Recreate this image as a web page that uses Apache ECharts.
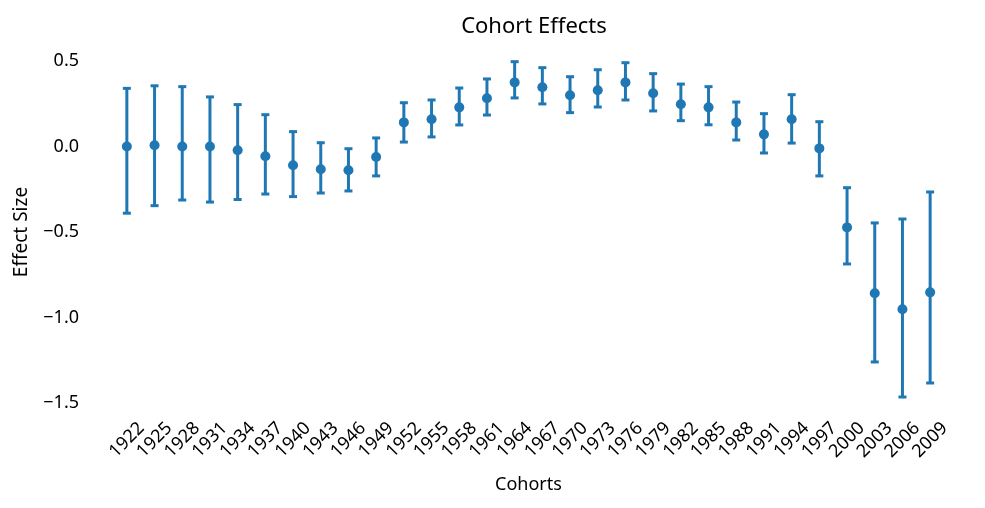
<!DOCTYPE html>
<html>
<head>
<meta charset="utf-8">
<script src="https://cdn.jsdelivr.net/npm/echarts@6/dist/echarts.min.js"></script>
<style>html,body{margin:0;padding:0;background:#fff;}#c{width:985px;height:508px;}</style>
</head>
<body>
<div id="c"></div>
<script>
const cohorts = ['1922','1925','1928','1931','1934','1937','1940','1943','1946','1949','1952','1955','1958','1961','1964','1967','1970','1973','1976','1979','1982','1985','1988','1991','1994','1997','2000','2003','2006','2009'];
const effects = [0.0, 0.007, 0.0, 0.0, -0.022, -0.057, -0.11, -0.133, -0.139, -0.061, 0.141, 0.159, 0.229, 0.282, 0.375, 0.346, 0.300, 0.329, 0.375, 0.311, 0.247, 0.229, 0.141, 0.071, 0.159, -0.011, -0.473, -0.858, -0.952, -0.853];
const upper = [0.34, 0.355, 0.35, 0.29, 0.245, 0.186, 0.087, 0.022, -0.013, 0.05, 0.256, 0.272, 0.342, 0.395, 0.496, 0.461, 0.408, 0.449, 0.490, 0.426, 0.365, 0.350, 0.260, 0.192, 0.303, 0.145, -0.241, -0.447, -0.424, -0.266];
const lower = [-0.39, -0.346, -0.313, -0.325, -0.31, -0.278, -0.293, -0.272, -0.26, -0.172, 0.026, 0.056, 0.126, 0.184, 0.284, 0.249, 0.198, 0.231, 0.272, 0.208, 0.151, 0.127, 0.038, -0.038, 0.020, -0.172, -0.687, -1.26, -1.465, -1.383];
const yTicks = [-1.5, -1.0, -0.5, 0.0, 0.5];

const color = '#1f77b4';
const font = 'Noto Sans';
const errData = cohorts.map((c, i) => [i, lower[i], upper[i]]);

const chart = echarts.init(document.getElementById('c'));
chart.setOption({
  animation: false,
  textStyle: { fontFamily: font },
  title: {
    text: 'Cohort Effects', left: 529, top: 11, textAlign: 'center',
    textStyle: { fontFamily: font, fontSize: 22, fontWeight: 'normal', color: '#000' }
  },
  grid: { left: 113, right: 41, top: 61, bottom: 105 },
  xAxis: {
    type: 'category', data: cohorts, boundaryGap: true,
    name: 'Cohorts', nameLocation: 'middle', nameGap: 73,
    nameTextStyle: { fontFamily: font, fontSize: 18, color: '#000' },
    axisLine: { show: false }, axisTick: { show: false }, splitLine: { show: false },
    axisLabel: {
      interval: 0, rotate: 45, margin: 37, align: 'center', verticalAlign: 'middle',
      fontFamily: font, fontSize: 18, color: '#000'
    }
  },
  yAxis: {
    type: 'value', min: yTicks[0], max: yTicks[yTicks.length - 1], interval: 0.5,
    name: 'Effect Size', nameLocation: 'middle', nameGap: 82, nameRotate: 90,
    nameTextStyle: { fontFamily: font, fontSize: 19, color: '#000' },
    axisLine: { show: false }, axisTick: { show: false }, splitLine: { show: false },
    axisLabel: {
      margin: 34, fontFamily: font, fontSize: 18, color: '#000',
      formatter: v => (v < 0 ? '\u2212' + Math.abs(v).toFixed(1) : v.toFixed(1))
    }
  },
  series: [
    {
      type: 'custom',
      data: errData,
      clip: false,
      renderItem: function (params, api) {
        const x = api.value(0);
        const lo = api.coord([x, api.value(1)]);
        const hi = api.coord([x, api.value(2)]);
        const cap = 4;
        const style = { stroke: color, lineWidth: 3, fill: null };
        return {
          type: 'group',
          children: [
            { type: 'line', shape: { x1: lo[0], y1: lo[1], x2: hi[0], y2: hi[1] }, style: style },
            { type: 'line', shape: { x1: lo[0] - cap, y1: lo[1], x2: lo[0] + cap, y2: lo[1] }, style: style },
            { type: 'line', shape: { x1: hi[0] - cap, y1: hi[1], x2: hi[0] + cap, y2: hi[1] }, style: style }
          ]
        };
      },
      z: 1
    },
    {
      type: 'scatter',
      data: effects.map((v, i) => [i, v]),
      symbol: 'circle', symbolSize: 10,
      itemStyle: { color: color, opacity: 1 },
      z: 2
    }
  ]
});
</script>
</body>
</html>
